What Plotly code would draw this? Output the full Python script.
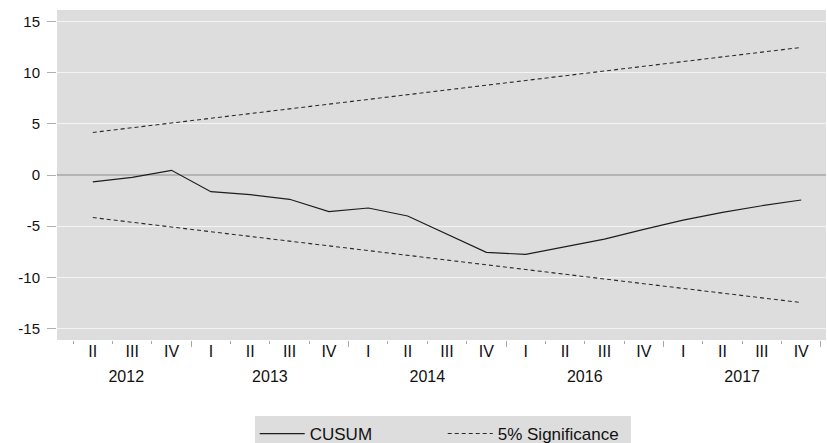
import plotly.graph_objects as go

# ---- data ----
quarter_labels = ["II", "III", "IV",
                  "I", "II", "III", "IV",
                  "I", "II", "III", "IV",
                  "I", "II", "III", "IV",
                  "I", "II", "III", "IV"]
year_labels = ["2012", "2013", "2014", "2016", "2017"]
year_label_pos = [0.85, 4.5, 8.5, 12.5, 16.5]
group_bounds = [2.5, 6.5, 10.5, 14.5, 18.5]
inner_bounds = [-0.5, 0.5, 1.5, 3.5, 4.5, 5.5, 7.5, 8.5, 9.5,
                11.5, 12.5, 13.5, 15.5, 16.5, 17.5]

cusum = [-0.68, -0.23, 0.46, -1.63, -1.92, -2.37, -3.58, -3.22, -4.00,
         -5.78, -7.55, -7.75, -7.00, -6.25, -5.30, -4.40, -3.65, -3.00, -2.44]
upper = [4.15, 4.61, 5.07, 5.53, 5.99, 6.46, 6.92, 7.38, 7.84, 8.30,
         8.76, 9.22, 9.68, 10.14, 10.61, 11.07, 11.53, 11.99, 12.45]
lower = [-4.15, -4.61, -5.07, -5.53, -5.99, -6.46, -6.92, -7.38, -7.84, -8.30,
         -8.76, -9.22, -9.68, -10.14, -10.61, -11.07, -11.53, -11.99, -12.45]
y_ticks = [-15, -10, -5, 0, 5, 10, 15]
y_tick_text = ["-15", "-10", "-5", "0", "5", "10", "15"]

xs = list(range(len(quarter_labels)))
FONT = "Liberation Sans, Arial, sans-serif"

fig = go.Figure()
fig.add_trace(go.Scatter(x=xs, y=cusum, mode="lines", name="CUSUM",
                         line=dict(color="#1e1e1e", width=1.2)))
fig.add_trace(go.Scatter(x=xs, y=upper, mode="lines", name="5% Significance",
                         line=dict(color="#2a2a2a", width=1.1, dash="4px,3px")))
fig.add_trace(go.Scatter(x=xs, y=lower, mode="lines", name="5% Significance",
                         showlegend=False,
                         line=dict(color="#2a2a2a", width=1.1, dash="4px,3px")))
# invisible trace to activate second x axis (year labels / long ticks)
fig.add_trace(go.Scatter(x=[xs[0]], y=[cusum[0]], xaxis="x2", mode="markers",
                         marker=dict(opacity=0), showlegend=False, hoverinfo="skip"))

xrange = [-0.91, 18.63]
fig.update_layout(
    width=827, height=443,
    margin=dict(l=57, r=1, t=10, b=103),
    paper_bgcolor="white",
    plot_bgcolor="#dddddd",
    font=dict(family=FONT, color="#111111"),
    showlegend=True,
    legend=dict(orientation="h", xref="container", yref="container",
                x=0.308, xanchor="left", y=0.0610, yanchor="top",
                bgcolor="#dddddd", borderwidth=0,
                font=dict(family=FONT, size=17, color="#111111"),
                itemwidth=45, entrywidth=128, traceorder="normal"),
    xaxis=dict(range=xrange, tickmode="array", tickvals=xs, ticktext=quarter_labels,
               ticks="", showgrid=False, zeroline=False, showline=False,
               tickfont=dict(size=16, family=FONT), ticklabelstandoff=0,
               minor=dict(tickmode="array", tickvals=inner_bounds, ticks="outside",
                          ticklen=3, tickcolor="#a8a8a8", tickwidth=1, showgrid=False)),
    xaxis2=dict(range=xrange, overlaying="x", anchor="y", side="bottom",
                tickmode="array", tickvals=year_label_pos, ticktext=year_labels,
                ticks="", showgrid=False, zeroline=False, showline=False,
                tickfont=dict(size=16, family=FONT), ticklabelstandoff=25,
                minor=dict(tickmode="array", tickvals=group_bounds, ticks="outside",
                           ticklen=6, tickcolor="#a8a8a8", tickwidth=1, showgrid=False)),
    yaxis=dict(range=[-16.1, 16.1], tickmode="array", tickvals=y_ticks,
               ticktext=y_tick_text,
               ticks="outside", ticklen=9, tickcolor="#b0b0b0", tickwidth=1,
               showgrid=True, gridcolor="#f4f4f4", gridwidth=1,
               zeroline=True, zerolinecolor="#b4b4b4", zerolinewidth=1.5,
               showline=False, tickfont=dict(size=15, family=FONT),
               ticklabelstandoff=4),
)

fig.write_html("out.html")
